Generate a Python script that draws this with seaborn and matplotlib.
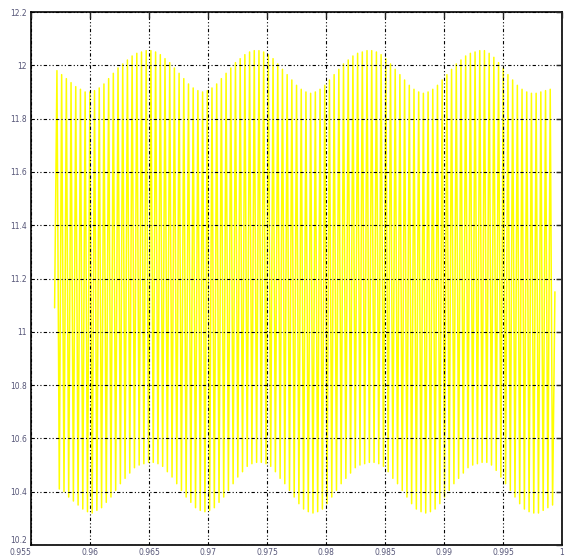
import numpy as np
import pandas as pd
import matplotlib
matplotlib.use("Agg")
import matplotlib.pyplot as plt
import seaborn as sns

# Upper ripple peaks (one per switching cycle)
upper_peaks = [
    11.98, 11.965, 11.95, 11.935, 11.92, 11.91, 11.90, 11.90,
    11.905, 11.915, 11.93, 11.95, 11.97, 11.99, 12.005, 12.02, 12.035, 12.045, 12.05, 12.055, 12.055, 12.05,
    12.04, 12.025, 12.01, 11.99, 11.97, 11.95, 11.93, 11.915, 11.905, 11.90,
    11.905, 11.915, 11.93, 11.95, 11.97, 11.99, 12.01, 12.025, 12.04, 12.05, 12.055, 12.055, 12.05,
    12.04, 12.025, 12.005, 11.985, 11.965, 11.945, 11.925, 11.91, 11.90, 11.895, 11.90,
    11.91, 11.925, 11.945, 11.965, 11.985, 12.005, 12.02, 12.035, 12.045, 12.05, 12.055, 12.055, 12.05,
    12.04, 12.025, 12.005, 11.985, 11.965, 11.945, 11.925, 11.91, 11.90, 11.895, 11.90,
    11.91, 11.925, 11.945, 11.965, 11.985, 12.005, 12.02, 12.035, 12.045, 12.05, 12.055, 12.055,
    12.045, 12.03, 12.01, 11.99, 11.965, 11.945, 11.925, 11.91, 11.90, 11.895, 11.895, 11.90, 11.905, 11.91,
]
# Lower ripple troughs (one per switching cycle)
lower_peaks = [
    10.41, 10.40, 10.38, 10.365, 10.35, 10.335, 10.325, 10.32,
    10.33, 10.34, 10.36, 10.38, 10.405, 10.43, 10.45, 10.47, 10.49, 10.50, 10.505, 10.51, 10.51, 10.505,
    10.495, 10.475, 10.455, 10.43, 10.405, 10.38, 10.36, 10.34, 10.33, 10.325,
    10.33, 10.34, 10.36, 10.38, 10.405, 10.43, 10.455, 10.475, 10.495, 10.505, 10.51, 10.51, 10.505,
    10.495, 10.475, 10.45, 10.43, 10.405, 10.38, 10.355, 10.335, 10.325, 10.32, 10.325,
    10.335, 10.355, 10.38, 10.405, 10.43, 10.45, 10.47, 10.49, 10.50, 10.505, 10.51, 10.51, 10.505,
    10.495, 10.475, 10.45, 10.43, 10.405, 10.38, 10.355, 10.335, 10.325, 10.32, 10.325,
    10.335, 10.355, 10.38, 10.405, 10.43, 10.45, 10.47, 10.49, 10.50, 10.505, 10.51, 10.51,
    10.50, 10.48, 10.455, 10.43, 10.405, 10.38, 10.355, 10.335, 10.325, 10.32, 10.32, 10.33, 10.34, 10.35,
]
start_value = 11.09
end_value = 11.15
t_start, t_end = 0.957, 0.9994

x_ticks = [0.955, 0.96, 0.965, 0.97, 0.975, 0.98, 0.985, 0.99, 0.995, 1.0]
x_labels = ["0.955", "0.96", "0.965", "0.97", "0.975", "0.98", "0.985", "0.99", "0.995", "1"]
y_ticks = [10.2, 10.4, 10.6, 10.8, 11.0, 11.2, 11.4, 11.6, 11.8, 12.0, 12.2]
y_labels = ["10.2", "10.4", "10.6", "10.8", "11", "11.2", "11.4", "11.6", "11.8", "12", "12.2"]

# Build the zigzag sequence: start, then alternate peak / trough, then end
vals = [start_value]
for u, l in zip(upper_peaks, lower_peaks):
    vals.append(u)
    vals.append(l)
vals.append(end_value)
t = np.linspace(t_start, t_end, len(vals))
df = pd.DataFrame({"t": t, "v": vals})

sns.set_style("white")
fig = plt.figure(figsize=(5.66, 5.60), dpi=100)
ax = fig.add_axes([31/566, 1 - 545/560, (562 - 31)/566, (545 - 12)/560])

sns.lineplot(data=df, x="t", y="v", ax=ax, color="#ffff00", linewidth=1.1,
             estimator=None, sort=False)

ax.set_xlim(0.955, 1.0)
ax.set_ylim(10.2, 12.2)
ax.set_xticks(x_ticks)
ax.set_xticklabels(x_labels)
ax.set_yticks(y_ticks)
ax.set_yticklabels(y_labels)
ax.set_xlabel("")
ax.set_ylabel("")

ax.grid(True, color="black", linestyle=(0, (3, 2, 1, 2, 1, 2)), linewidth=0.8)
ax.set_axisbelow(False)
for s in ax.spines.values():
    s.set_visible(True)
    s.set_color("black")
    s.set_linewidth(1.2)
ax.tick_params(direction="in", length=4, width=1, top=True, right=True,
               labelsize=5.5, labelcolor="#555577")
ax.tick_params(axis="x", pad=2)
ax.tick_params(axis="y", pad=3)

# keep the corner labels apart, as in the reference
ax.get_xticklabels()[0].set_horizontalalignment("right")
ax.get_yticklabels()[0].set_verticalalignment("bottom")

fig.savefig("out.png", dpi=100, facecolor="white")
